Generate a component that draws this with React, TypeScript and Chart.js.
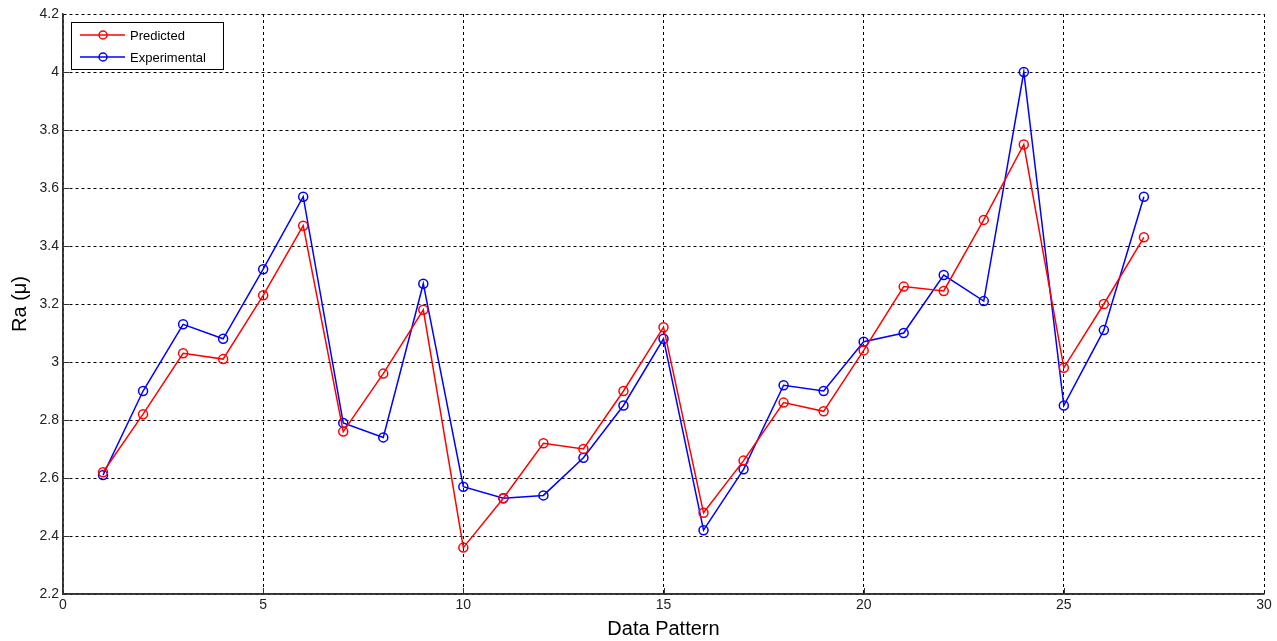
import React, { useEffect, useRef } from "react";
import { Chart, registerables } from "chart.js";

Chart.register(...registerables);

const patterns = [1,2,3,4,5,6,7,8,9,10,11,12,13,14,15,16,17,18,19,20,21,22,23,24,25,26,27];
const predicted = [2.62,2.82,3.03,3.01,3.23,3.47,2.76,2.96,3.18,2.36,2.53,2.72,2.70,2.90,3.12,2.48,2.66,2.86,2.83,3.04,3.26,3.245,3.49,3.75,2.98,3.20,3.43];
const experimental = [2.61,2.90,3.13,3.08,3.32,3.57,2.79,2.74,3.27,2.57,2.53,2.54,2.67,2.85,3.08,2.42,2.63,2.92,2.90,3.07,3.10,3.30,3.21,4.00,2.85,3.11,3.57];
const seriesNames = ["Predicted", "Experimental"];
const seriesColors = ["#ff0000", "#0000ff"];
const xTitle = "Data Pattern";
const yTitle = "Ra (\u03bc)";
const xTickValues = [0, 5, 10, 15, 20, 25, 30];
const yTickValues = [2.2, 2.4, 2.6, 2.8, 3, 3.2, 3.4, 3.6, 3.8, 4, 4.2];

const legendPlugin = {
  id: "matlabLegend",
  afterDraw(chart: any) {
    const ctx = chart.ctx;
    const area = chart.chartArea;
    const x0 = area.left + 8;
    const y0 = area.top + 8;
    const w = 152;
    const h = 47;
    ctx.save();
    ctx.fillStyle = "#ffffff";
    ctx.fillRect(x0, y0, w, h);
    ctx.strokeStyle = "#000000";
    ctx.lineWidth = 1;
    ctx.strokeRect(x0 + 0.5, y0 + 0.5, w, h);
    ctx.font = "13px 'Liberation Sans', Arial, sans-serif";
    ctx.textBaseline = "middle";
    seriesNames.forEach((name, i) => {
      const yy = y0 + 13 + i * 22;
      ctx.strokeStyle = seriesColors[i];
      ctx.lineWidth = 1.5;
      ctx.beginPath();
      ctx.moveTo(x0 + 9, yy);
      ctx.lineTo(x0 + 54, yy);
      ctx.stroke();
      ctx.beginPath();
      ctx.arc(x0 + 32, yy, 4, 0, Math.PI * 2);
      ctx.stroke();
      ctx.fillStyle = "#000000";
      ctx.fillText(name, x0 + 59, yy + 1);
    });
    ctx.restore();
  },
};

export default function App() {
  const ref = useRef<HTMLCanvasElement>(null);
  useEffect(() => {
    if (!ref.current) return;
    const chart = new Chart(ref.current, {
      type: "line",
      data: {
        datasets: [predicted, experimental].map((vals, i) => ({
          label: seriesNames[i],
          data: patterns.map((p, j) => ({ x: p, y: vals[j] })),
          borderColor: seriesColors[i],
          backgroundColor: "transparent",
          borderWidth: 1.5,
          pointRadius: 4.5,
          pointBorderWidth: 1.5,
          pointBorderColor: seriesColors[i],
          pointBackgroundColor: "rgba(0,0,0,0)",
          tension: 0,
        })),
      },
      options: {
        animation: false,
        responsive: false,
        maintainAspectRatio: false,
        layout: { padding: { top: 14, right: 13, left: 0, bottom: 0 } },
        plugins: { legend: { display: false }, tooltip: { enabled: false } },
        scales: {
          x: {
            type: "linear",
            min: 0,
            max: 30,
            afterBuildTicks(scale: any) { scale.ticks = xTickValues.map((v) => ({ value: v })); },
            ticks: {
              color: "#222",
              padding: 3,
              font: { size: 14, family: "'Liberation Sans', Arial, sans-serif" },
            },
            grid: { color: "#000", lineWidth: 1, drawTicks: false },
            border: { display: true, color: "#333", width: 1.5, dash: [3, 3] },
            title: {
              display: true,
              text: xTitle,
              color: "#000",
              font: { size: 20, family: "'Liberation Sans', Arial, sans-serif" },
              padding: { top: 0, bottom: 0 },
            },
            afterFit(scale: any) { scale.height = 47; },
          } as any,
          y: {
            min: 2.2,
            max: 4.2,
            afterBuildTicks(scale: any) { scale.ticks = yTickValues.map((v) => ({ value: v })); },
            ticks: {
              color: "#222",
              padding: 4,
              font: { size: 14, family: "'Liberation Sans', Arial, sans-serif" },
              callback: (v: any) => String(Math.round(Number(v) * 10) / 10),
            },
            grid: { color: "#000", lineWidth: 1, drawTicks: false },
            border: { display: true, color: "#333", width: 1.5, dash: [3, 3] },
            title: {
              display: true,
              text: yTitle,
              color: "#000",
              font: { size: 20, family: "'Liberation Sans', Arial, sans-serif" },
              padding: { top: 8, bottom: 0 },
            },
            afterFit(scale: any) { scale.width = 63; },
          } as any,
        },
      },
      plugins: [
        {
          id: "axesTicks",
          beforeDatasetsDraw(chart: any) {
            const ctx = chart.ctx;
            const a = chart.chartArea;
            ctx.save();
            ctx.strokeStyle = "#333";
            ctx.lineWidth = 1.5;
            ctx.beginPath();
            ctx.moveTo(a.left, a.top);
            ctx.lineTo(a.left, a.bottom);
            ctx.lineTo(a.right, a.bottom);
            ctx.stroke();
            ctx.lineWidth = 1;
            ctx.beginPath();
            const xs = chart.scales.x;
            xTickValues.slice(1, -1).forEach((v) => {
              const px = Math.round(xs.getPixelForValue(v)) + 0.5;
              ctx.moveTo(px, a.bottom);
              ctx.lineTo(px, a.bottom - 6);
            });
            const ys = chart.scales.y;
            yTickValues.slice(1, -1).forEach((v) => {
              const py = Math.round(ys.getPixelForValue(v)) + 0.5;
              ctx.moveTo(a.left, py);
              ctx.lineTo(a.left + 6, py);
            });
            ctx.stroke();
            ctx.restore();
          },
        },
        legendPlugin,
      ],
    } as any);
    return () => chart.destroy();
  }, []);
  return (
    <div style={{ position: "fixed", left: 0, top: 0, width: 1277, height: 641, background: "#fff" }}>
      <canvas ref={ref} width={1277} height={641} />
    </div>
  );
}
